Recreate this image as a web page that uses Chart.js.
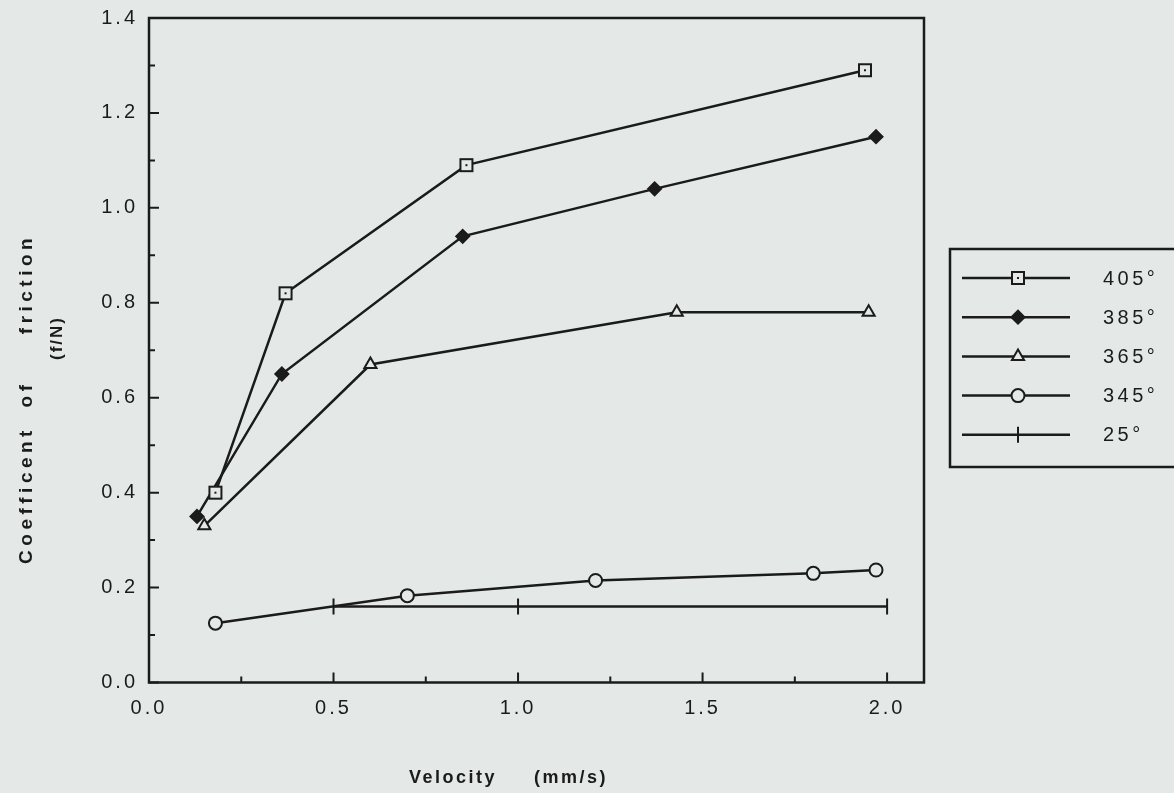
<!DOCTYPE html>
<html>
<head>
<meta charset="utf-8">
<script src="https://cdn.jsdelivr.net/npm/chart.js@4/dist/chart.umd.min.js"></script>
<style>
  html, body { margin: 0; padding: 0; background: #e4e9e8; }
  #wrap { width: 1174px; height: 793px; position: relative; }
</style>
</head>
<body>
<div id="wrap"><canvas id="c" width="1174" height="793"></canvas></div>
<script>
// ---- data ----
const seriesLabels = ['405\u00b0', '385\u00b0', '365\u00b0', '345\u00b0', '25\u00b0'];
const velocity405 = [0.18, 0.37, 0.86, 1.94];
const cof405      = [0.40, 0.82, 1.09, 1.29];
const velocity385 = [0.13, 0.36, 0.85, 1.37, 1.97];
const cof385      = [0.35, 0.65, 0.94, 1.04, 1.15];
const velocity365 = [0.15, 0.60, 1.43, 1.95];
const cof365      = [0.33, 0.67, 0.78, 0.78];
const velocity345 = [0.18, 0.70, 1.21, 1.80, 1.97];
const cof345      = [0.125, 0.183, 0.215, 0.23, 0.237];
const velocity25  = [0.50, 1.00, 2.00];
const cof25       = [0.16, 0.16, 0.16];
const xTickValues = [0.0, 0.5, 1.0, 1.5, 2.0];
const xMinorValues = [0.25, 0.75, 1.25, 1.75];
const yTickValues = [0.0, 0.2, 0.4, 0.6, 0.8, 1.0, 1.2, 1.4];
const yMinorValues = [0.1, 0.3, 0.5, 0.7, 0.9, 1.1, 1.3];
const xTitleWords = ['Velocity', '(mm/s)'];
const yTitleWords = ['Coefficent', 'of', 'friction'];
const yTitleSub = '(f/N)';

const INK = '#1b1b1b';
const BG = '#e4e9e8';
const FONT = '"Liberation Sans", Arial, sans-serif';

// square-with-dot marker
function squareDot() {
  const c = document.createElement('canvas');
  c.width = 16; c.height = 16;
  const x = c.getContext('2d');
  x.fillStyle = BG; x.fillRect(1, 1, 14, 14);
  x.strokeStyle = INK; x.lineWidth = 2; x.strokeRect(2, 2, 12, 12);
  x.fillStyle = INK; x.fillRect(7, 7, 2, 2);
  return c;
}
const sqImg = squareDot();

function pts(xs, ys) { return xs.map((v, i) => ({ x: v, y: ys[i] })); }

const datasets = [
  { label: seriesLabels[0], data: pts(velocity405, cof405), pointStyle: sqImg, pointRadius: 8, pointBackgroundColor: BG },
  { label: seriesLabels[1], data: pts(velocity385, cof385), pointStyle: 'rectRot', pointRadius: 6.5, pointBackgroundColor: INK },
  { label: seriesLabels[2], data: pts(velocity365, cof365), pointStyle: 'triangle', pointRadius: 7, pointBackgroundColor: BG },
  { label: seriesLabels[3], data: pts(velocity345, cof345), pointStyle: 'circle', pointRadius: 6.5, pointBackgroundColor: BG },
  { label: seriesLabels[4], data: pts(velocity25, cof25), pointStyle: 'line', pointRotation: 90, pointRadius: 8, pointBackgroundColor: INK }
].map(d => Object.assign({
  showLine: true,
  borderColor: INK,
  borderWidth: 2.5,
  pointBorderColor: INK,
  pointBorderWidth: 2,
  tension: 0
}, d));

const framePlugin = {
  id: 'frame',
  beforeDraw(chart) {
    const ctx = chart.ctx;
    ctx.save();
    ctx.fillStyle = BG;
    ctx.fillRect(0, 0, chart.width, chart.height);
    ctx.restore();
    ctx.letterSpacing = '3px';
  },
  afterDraw(chart) {
    const ctx = chart.ctx;
    const a = chart.chartArea;
    const xs = chart.scales.x, ys = chart.scales.y;
    ctx.save();
    ctx.strokeStyle = INK;
    ctx.lineWidth = 2.5;
    ctx.strokeRect(a.left, a.top, a.right - a.left, a.bottom - a.top);
    ctx.lineWidth = 2;
    ctx.beginPath();
    xTickValues.forEach(v => { const p = xs.getPixelForValue(v); ctx.moveTo(p, a.bottom); ctx.lineTo(p, a.bottom - 10); });
    xMinorValues.forEach(v => { const p = xs.getPixelForValue(v); ctx.moveTo(p, a.bottom); ctx.lineTo(p, a.bottom - 6); });
    yTickValues.forEach(v => { const p = ys.getPixelForValue(v); ctx.moveTo(a.left, p); ctx.lineTo(a.left + 10, p); });
    yMinorValues.forEach(v => { const p = ys.getPixelForValue(v); ctx.moveTo(a.left, p); ctx.lineTo(a.left + 6, p); });
    ctx.stroke();

    // axis titles
    ctx.fillStyle = INK;
    ctx.font = 'bold 18px ' + FONT;
    ctx.letterSpacing = '2.5px';
    ctx.textAlign = 'left';
    ctx.textBaseline = 'middle';
    const xWordPos = [409, 534];
    xTitleWords.forEach((w, i) => ctx.fillText(w, xWordPos[i], 778));

    const yWordCenters = [497, 396, 286];
    ctx.font = 'bold 19px ' + FONT;
    ctx.letterSpacing = '4.5px';
    ctx.textAlign = 'center';
    yTitleWords.forEach((w, i) => {
      ctx.save();
      ctx.translate(27, yWordCenters[i]);
      ctx.rotate(-Math.PI / 2);
      ctx.fillText(w, 2, 0);
      ctx.restore();
    });
    ctx.save();
    ctx.translate(57, 338);
    ctx.rotate(-Math.PI / 2);
    ctx.letterSpacing = '2px';
    ctx.textAlign = 'center';
    ctx.font = 'bold 17px ' + FONT;
    ctx.fillText(yTitleSub, 0, 0);
    ctx.restore();

    // legend box
    const lx = 950, ly = 249, lw = 240, lh = 218;
    ctx.lineWidth = 2.5;
    ctx.strokeRect(lx, ly, lw, lh);
    const rowY0 = 278, rowStep = 39.2;
    ctx.font = '20px ' + FONT;
    ctx.letterSpacing = '3.5px';
    ctx.textAlign = 'left';
    chart.data.datasets.forEach((ds, i) => {
      const y = rowY0 + i * rowStep;
      ctx.strokeStyle = INK;
      ctx.lineWidth = 2.5;
      ctx.beginPath();
      ctx.moveTo(962, y); ctx.lineTo(1070, y);
      ctx.stroke();
      ctx.lineWidth = 2;
      ctx.fillStyle = ds.pointBackgroundColor;
      Chart.helpers.drawPoint(ctx, {
        pointStyle: ds.pointStyle,
        radius: ds.pointRadius,
        rotation: ds.pointRotation || 0,
        borderWidth: 2
      }, 1018, y);
      ctx.fillStyle = INK;
      ctx.fillText(ds.label, 1103, y + 1);
    });
    ctx.restore();
  }
};

new Chart(document.getElementById('c'), {
  type: 'scatter',
  data: { datasets },
  options: {
    responsive: false,
    animation: false,
    events: [],
    layout: { padding: { left: 0, top: 18, right: 250, bottom: 0 } },
    plugins: { legend: { display: false }, tooltip: { enabled: false } },
    scales: {
      x: {
        type: 'linear', min: 0, max: 2.1,
        grid: { display: false, drawTicks: false },
        border: { display: false },
        afterFit(s) { s.height = 110.5; s.paddingLeft = 0; s.paddingRight = 0; },
        afterBuildTicks(s) { s.ticks = xTickValues.map(v => ({ value: v })); },
        ticks: {
          padding: 14, color: INK, maxRotation: 0, autoSkip: false,
          font: { family: FONT, size: 20 },
          callback: v => v.toFixed(1)
        }
      },
      y: {
        type: 'linear', min: 0, max: 1.4,
        grid: { display: false, drawTicks: false },
        border: { display: false },
        afterFit(s) { s.width = 149; s.paddingTop = 0; s.paddingBottom = 0; },
        afterBuildTicks(s) { s.ticks = yTickValues.map(v => ({ value: v })); },
        ticks: {
          padding: 11, color: INK, autoSkip: false,
          font: { family: FONT, size: 20 },
          callback: v => v.toFixed(1)
        }
      }
    }
  },
  plugins: [framePlugin]
});
</script>
</body>
</html>
